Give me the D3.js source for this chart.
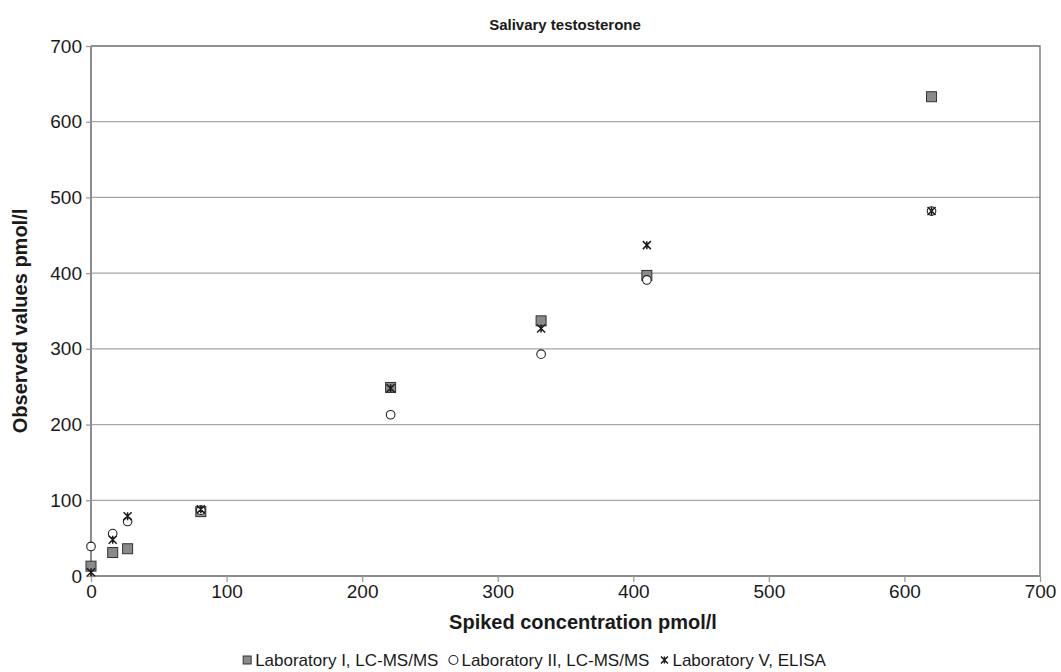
<!DOCTYPE html>
<html>
<head>
<meta charset="utf-8">
<script src="https://cdn.jsdelivr.net/npm/d3@7"></script>
<style>
  html, body { margin: 0; padding: 0; background: #fff; }
  svg { display: block; font-family: "Liberation Sans", Arial, sans-serif; }
</style>
</head>
<body>
<svg id="chart" width="1061" height="672"></svg>
<script>
// Spiked concentrations (pmol/l) and observed values per laboratory
const spiked = [0, 16, 27, 81, 221, 332, 410, 620];
const labI   = [13, 31, 36, 85, 249, 337, 397, 633];
const labII  = [39, 56, 72, 87, 213, 293, 391, 482];
const labV   = [5, 48, 79, 88, 248, 327, 437, 482];

const seriesNames = ["Laboratory I, LC-MS/MS", "Laboratory II, LC-MS/MS", "Laboratory V, ELISA"];
const xTicks = [0, 100, 200, 300, 400, 500, 600, 700];
const yTicks = [0, 100, 200, 300, 400, 500, 600, 700];

const svg = d3.select("#chart");
const plotL = 91, plotR = 1040, plotT = 46, plotB = 576;

const x = d3.scaleLinear().domain([0, 700]).range([plotL, plotR]);
const y = d3.scaleLinear().domain([0, 700]).range([plotB, plotT]);

// horizontal gridlines
svg.append("g").selectAll("line").data(yTicks.slice(1, -1)).join("line")
  .attr("x1", plotL).attr("x2", plotR)
  .attr("y1", d => y(d)).attr("y2", d => y(d))
  .attr("stroke", "#a6a6a6").attr("stroke-width", 1.3);

// plot frame: top and right edges
svg.append("path")
  .attr("d", `M${plotL},${plotT}H${plotR}V${plotB}`)
  .attr("fill", "none").attr("stroke", "#6e6e6e").attr("stroke-width", 1.3);

// axes
const xAxis = svg.append("g").attr("transform", `translate(0,${plotB})`)
  .call(d3.axisBottom(x).tickValues(xTicks).tickSize(6).tickPadding(3));
const yAxis = svg.append("g").attr("transform", `translate(${plotL},0)`)
  .call(d3.axisLeft(y).tickValues(yTicks).tickSize(5).tickPadding(4));
[xAxis, yAxis].forEach(g => {
  g.select(".domain").attr("stroke", "#8c8c8c").attr("stroke-width", 2);
  g.selectAll(".tick line").attr("stroke", "#9a9a9a").attr("stroke-width", 1.3);
  g.selectAll(".tick text").attr("fill", "#1a1a1a")
    .style("font-size", "19px").style("font-family", '"Liberation Sans", Arial, sans-serif');
});
xAxis.select(".domain").attr("d", `M${plotL},0H${plotR}`);
yAxis.select(".domain").attr("d", `M0,${plotB}V${plotT}`);

// titles
svg.append("text").attr("x", 565).attr("y", 30).attr("text-anchor", "middle")
  .style("font-size", "15px").style("font-weight", "bold").attr("fill", "#1a1a1a")
  .text("Salivary testosterone");
svg.append("text").attr("x", 583).attr("y", 629).attr("text-anchor", "middle")
  .style("font-size", "20px").style("font-weight", "bold").attr("fill", "#1a1a1a")
  .text("Spiked concentration pmol/l");
svg.append("text").attr("transform", `translate(27,${(plotT + plotB) / 2 + 10}) rotate(-90)`)
  .attr("text-anchor", "middle")
  .style("font-size", "20px").style("font-weight", "bold").attr("fill", "#1a1a1a")
  .text("Observed values pmol/l");

// marker drawers
function square(g, cx, cy, s) {
  g.append("rect").attr("x", cx - s / 2).attr("y", cy - s / 2).attr("width", s).attr("height", s)
    .attr("fill", "#8a8a8a").attr("stroke", "#333").attr("stroke-width", 1);
}
function circle(g, cx, cy, r) {
  g.append("circle").attr("cx", cx).attr("cy", cy).attr("r", r)
    .attr("fill", "#fff").attr("stroke", "#222").attr("stroke-width", 1.1);
}
function star(g, cx, cy, s) {
  const h = s / 2;
  g.append("path")
    .attr("d", `M${cx - h},${cy - h}L${cx + h},${cy + h}M${cx - h},${cy + h}L${cx + h},${cy - h}M${cx},${cy - h}V${cy + h}`)
    .attr("stroke", "#1a1a1a").attr("stroke-width", 1.5).attr("fill", "none");
}

const pts = svg.append("g");
spiked.forEach((s, i) => square(pts, x(s), y(labI[i]), 10));
spiked.forEach((s, i) => circle(pts, x(s), y(labII[i]), 4.3));
spiked.forEach((s, i) => star(pts, x(s), y(labV[i]), 8));

// legend: laid out in a row, centred under the plot
const leg = svg.append("g");
const legendY = 666;
const drawers = [
  (g, cx) => square(g, cx, legendY - 6, 8),
  (g, cx) => circle(g, cx, legendY - 6, 4.5),
  (g, cx) => star(g, cx, legendY - 6, 7)
];
const gap = 10;
let cursor = 0;
seriesNames.forEach((name, i) => {
  const grp = leg.append("g");
  drawers[i](grp, 5);
  const t = grp.append("text").attr("x", 13).attr("y", legendY)
    .style("font-size", "17px").attr("fill", "#1a1a1a").text(name);
  const w = 13 + t.node().getComputedTextLength();
  grp.attr("transform", `translate(${cursor},0)`);
  cursor += w + gap;
});
const totalW = cursor - gap;
leg.attr("transform", `translate(${534 - totalW / 2},0)`);
</script>
</body>
</html>
